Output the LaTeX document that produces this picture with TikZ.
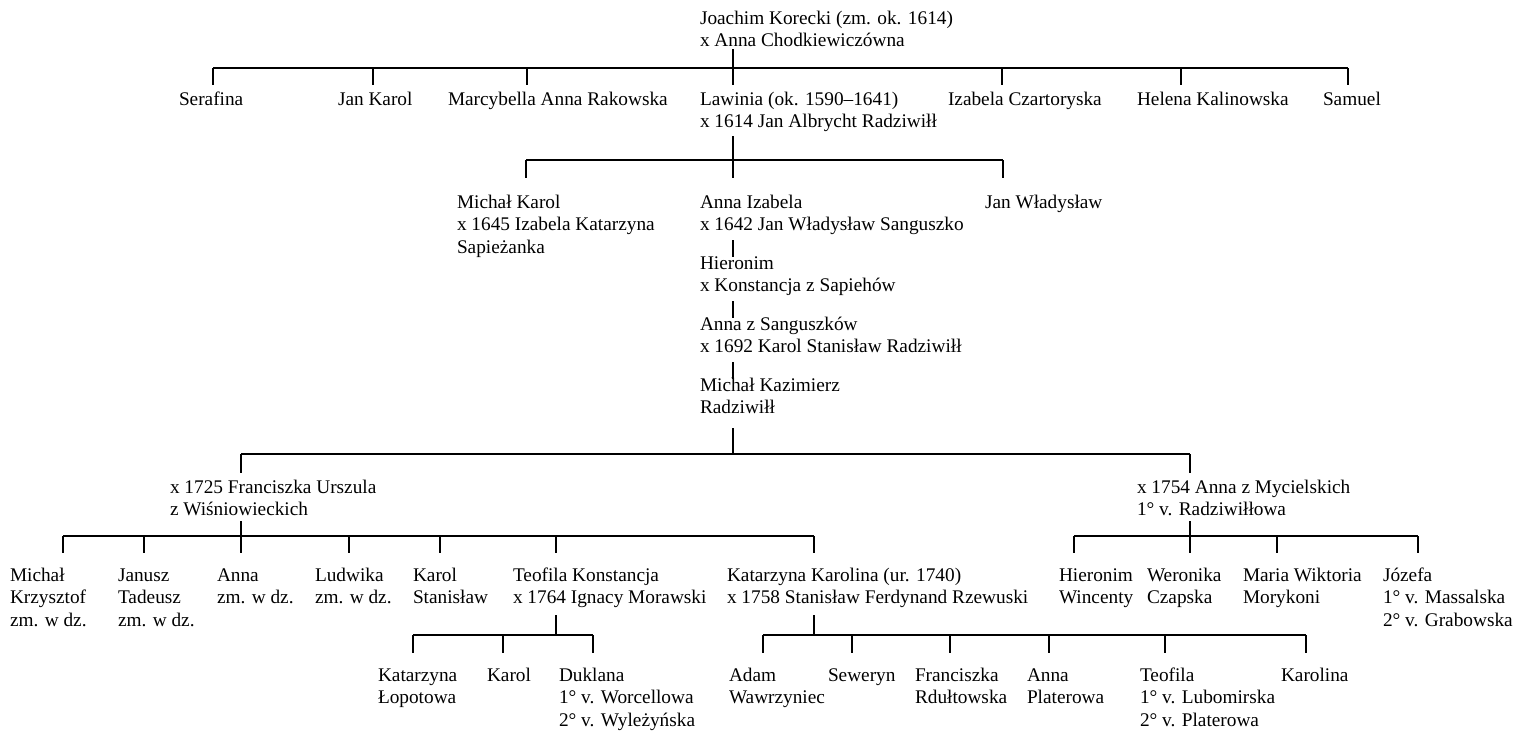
\documentclass[tikz,border=0pt]{standalone}
\usepackage{fontspec}
\setmainfont{Liberation Serif}
\begin{document}
\begin{tikzpicture}[x=1pt,y=-1pt,
  lbl/.style={anchor=base west, inner sep=0pt, outer sep=0pt, align=left,
    font=\fontsize{19.3}{22.5}\selectfont},
  bar/.style={line width=1.6pt},
  tick/.style={line width=1.4pt}]
\fill[white] (0,0) rectangle (1527,732);
\useasboundingbox (0,0) rectangle (1527,732);
% node positions are given at the baseline of the LAST text line

% ---------- generation 0
\node[lbl] (joachim) at (700,46.5) {Joachim Korecki (zm. ok. 1614)\\x Anna Chodkiewiczówna};
\coordinate (j-up) at (733,49);
\coordinate (A-l) at (213,68);
\coordinate (A-r) at (1348,68);
\draw[tick] (j-up) -- (j-up |- A-l);
\draw[bar] (A-l) -- (A-r);
\foreach \n/\x in {serafina/213,jankarol/373,marcy/527,lawinia/733,izabela/1002,helena/1181,samuel/1348}
  {\coordinate (t-\n) at (\x,85); \draw[tick] (t-\n |- A-l) -- (t-\n);}

% ---------- generation 1
\node[lbl] (serafina) at (179,105) {Serafina};
\node[lbl] (jankarol) at (338,105) {Jan Karol};
\node[lbl] (marcy) at (448,105) {Marcybella Anna Rakowska};
\node[lbl] (lawinia) at (700,127.5) {Lawinia (ok. 1590–1641)\\x 1614 Jan Albrycht Radziwiłł};
\node[lbl] (izabela) at (948,105) {Izabela Czartoryska};
\node[lbl] (helena) at (1137,105) {Helena Kalinowska};
\node[lbl] (samuel) at (1323,105) {Samuel};

\coordinate (l-up) at (733,136);
\coordinate (B-l) at (526,160);
\coordinate (B-r) at (1003,160);
\draw[tick] (l-up) -- (l-up |- B-l);
\draw[bar] (B-l) -- (B-r);
\foreach \n/\x in {michalkarol/526,annaiz/733,janwl/1003}
  {\coordinate (t-\n) at (\x,178); \draw[tick] (t-\n |- B-l) -- (t-\n);}

% ---------- generation 2
\node[lbl] (michalkarol) at (457,253) {Michał Karol\\x 1645 Izabela Katarzyna\\Sapieżanka};
\node[lbl] (annaiz) at (700,230.5) {Anna Izabela\\x 1642 Jan Władysław Sanguszko};
\node[lbl] (janwl) at (985,208) {Jan Władysław};

\coordinate (ai-a) at (733,240);
\coordinate (ai-b) at (733,257);
\draw[tick] (ai-a) -- (ai-b);
\node[lbl] (hieronim) at (700,291.5) {Hieronim\\x Konstancja z Sapiehów};
\coordinate (hi-a) at (733,301);
\coordinate (hi-b) at (733,318);
\draw[tick] (hi-a) -- (hi-b);
\node[lbl] (annazs) at (700,352.5) {Anna z Sanguszków\\x 1692 Karol Stanisław Radziwiłł};
\coordinate (as-a) at (733,362);
\coordinate (as-b) at (733,379);
\draw[tick] (as-a) -- (as-b);
\node[lbl] (mk) at (700,413.5) {Michał Kazimierz\\Radziwiłł};

\coordinate (mk-up) at (733,428);
\coordinate (C-l) at (241,454);
\coordinate (C-r) at (1190,454);
\draw[tick] (mk-up) -- (mk-up |- C-l);
\draw[bar] (C-l) -- (C-r);
\foreach \n/\x in {franc/241,myc/1190}
  {\coordinate (t-\n) at (\x,473); \draw[tick] (t-\n |- C-l) -- (t-\n);}

% ---------- wives
\node[lbl] (franciszka) at (170,515.5) {x 1725 Franciszka Urszula\\z Wiśniowieckich};
\node[lbl] (annamyc) at (1137,515.5) {x 1754 Anna z Mycielskich\\1° v. Radziwiłłowa};

\coordinate (fr-up) at (241,521);
\coordinate (D-l) at (63,536);
\coordinate (D-r) at (814,536);
\draw[tick] (fr-up) -- (fr-up |- D-l);
\draw[bar] (D-l) -- (D-r);
\foreach \n/\x in {michalk/63,janusz/144,anna/241,ludwika/349,karolst/440,teofilak/556,katarzynak/814}
  {\coordinate (t-\n) at (\x,553); \draw[tick] (t-\n |- D-l) -- (t-\n);}

\coordinate (my-up) at (1190,521);
\coordinate (E-l) at (1074,536);
\coordinate (E-r) at (1418,536);
\draw[tick] (my-up) -- (my-up |- E-l);
\draw[bar] (E-l) -- (E-r);
\foreach \n/\x in {hieronimw/1074,weronika/1190,maria/1277,jozefa/1418}
  {\coordinate (t-\n) at (\x,553); \draw[tick] (t-\n |- E-l) -- (t-\n);}

% ---------- generation 3
\node[lbl] (michalk) at (10,626) {Michał\\Krzysztof\\zm. w dz.};
\node[lbl] (janusz) at (118,626) {Janusz\\Tadeusz\\zm. w dz.};
\node[lbl] (anna) at (217,603.5) {Anna\\zm. w dz.};
\node[lbl] (ludwika) at (315,603.5) {Ludwika\\zm. w dz.};
\node[lbl] (karolst) at (413,603.5) {Karol\\Stanisław};
\node[lbl] (teofilak) at (513,603.5) {Teofila Konstancja\\x 1764 Ignacy Morawski};
\node[lbl] (katarzynak) at (727,603.5) {Katarzyna Karolina (ur. 1740)\\x 1758 Stanisław Ferdynand Rzewuski};
\node[lbl] (hieronimw) at (1059,603.5) {Hieronim\\Wincenty};
\node[lbl] (weronika) at (1147,603.5) {Weronika\\Czapska};
\node[lbl] (maria) at (1243,603.5) {Maria Wiktoria\\Morykoni};
\node[lbl] (jozefa) at (1383,626) {Józefa\\1° v. Massalska\\2° v. Grabowska};

\coordinate (tk-up) at (556,615);
\coordinate (F-l) at (413,635);
\coordinate (F-r) at (593,635);
\draw[tick] (tk-up) -- (tk-up |- F-l);
\draw[bar] (F-l) -- (F-r);
\foreach \n/\x in {katlop/413,karol/503,duklana/593}
  {\coordinate (t-\n) at (\x,653); \draw[tick] (t-\n |- F-l) -- (t-\n);}

\coordinate (kk-up) at (814,615);
\coordinate (G-l) at (763,635);
\coordinate (G-r) at (1306,635);
\draw[tick] (kk-up) -- (kk-up |- G-l);
\draw[bar] (G-l) -- (G-r);
\foreach \n/\x in {adam/763,seweryn/852,franciszkar/950,annapl/1049,teofila/1165,karolina/1306}
  {\coordinate (t-\n) at (\x,653); \draw[tick] (t-\n |- G-l) -- (t-\n);}

% ---------- generation 4
\node[lbl] (katlop) at (378,703.5) {Katarzyna\\Łopotowa};
\node[lbl] (karol) at (487,681) {Karol};
\node[lbl] (duklana) at (559,726) {Duklana\\1° v. Worcellowa\\2° v. Wyleżyńska};
\node[lbl] (adam) at (729,703.5) {Adam\\Wawrzyniec};
\node[lbl] (seweryn) at (828,681) {Seweryn};
\node[lbl] (franciszkar) at (915,703.5) {Franciszka\\Rdułtowska};
\node[lbl] (annapl) at (1027,703.5) {Anna\\Platerowa};
\node[lbl] (teofila) at (1140,726) {Teofila\\1° v. Lubomirska\\2° v. Platerowa};
\node[lbl] (karolina) at (1281,681) {Karolina};
\end{tikzpicture}
\end{document}
